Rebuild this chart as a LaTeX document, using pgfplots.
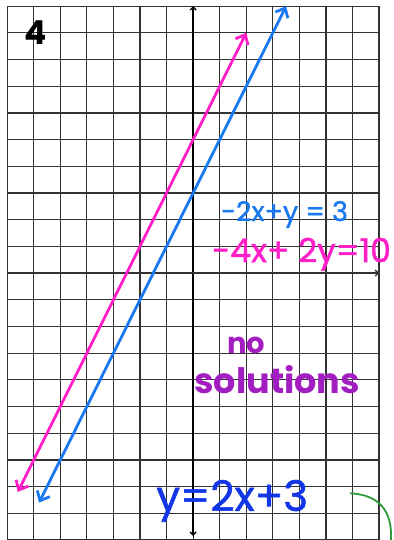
\documentclass[border=0pt]{standalone}
\usepackage{pgfplots}
\pgfplotsset{compat=1.18}
\usepackage{fontspec}
\setmainfont{Poppins}
\usetikzlibrary{arrows.meta}
\definecolor{penpink}{HTML}{FF1EC8}
\definecolor{penblue}{HTML}{1A78F0}
\definecolor{inkblue}{HTML}{1236E6}
\definecolor{penpurple}{HTML}{A21EC0}
\definecolor{pengreen}{HTML}{2E9B3A}
\definecolor{gridink}{HTML}{333333}

% y = 2x + 3  (from -2x + y = 3)
\pgfplotstableread{
x y
-5.8 -8.6
3.5 10
}\bluetable
% y = 2x + 5  (from -4x + 2y = 10)
\pgfplotstableread{
x y
-6.6 -8.2
2 9
}\pinktable

\newcommand{\hand}[1]{\fontsize{#1}{#1}\selectfont\addfontfeature{FakeBold=1.3}}

\begin{document}
\begin{tikzpicture}
\begin{axis}[
  scale only axis,
  width=372pt, height=534pt,
  xmin=-7, xmax=7, ymin=-10, ymax=10,
  xtick={-7,...,7}, ytick={-10,...,10},
  xticklabels={}, yticklabels={},
  major tick length=0pt,
  grid=major,
  grid style={draw=gridink, line width=1.2pt},
  axis line style={draw=gridink, line width=1.2pt},
  clip=false,
]
% page extent: a little paper margin on the left, top and right
\coordinate (pageSW) at (axis cs:-7.27,-10);
\coordinate (pageNE) at (axis cs:7.53,10.23);

% coordinate axes
\draw[line width=1.4pt, black, -{Straight Barb[length=3pt,width=6pt]}]
  (axis cs:0,0) -- (axis cs:0,10);
\draw[line width=1.4pt, black, -{Straight Barb[length=3pt,width=6pt]}]
  (axis cs:0,0) -- (axis cs:0,-9.85);
\draw[line width=1.3pt, gridink, -{Straight Barb[length=3pt,width=6pt]}]
  (axis cs:0,0) -- (axis cs:7,0);
\draw[line width=1.3pt, gridink]
  (axis cs:0,0) -- (axis cs:-7,0);

% the two parallel lines
\addplot[penpink, line width=2.8pt,
  {Straight Barb[length=8pt,width=14pt]}-{Straight Barb[length=8pt,width=14pt]}]
  table {\pinktable};
\addplot[penblue, line width=2.8pt,
  {Straight Barb[length=8pt,width=14pt]}-{Straight Barb[length=8pt,width=14pt]}]
  table {\bluetable};

% problem number
\node[anchor=base west, inner sep=0pt, font=\fontsize{33}{33}\selectfont\bfseries]
  at (axis cs:-6.35,8.58) {4};

% equations
\node[anchor=base west, inner sep=0pt, penblue, font=\hand{27}]
  at (axis cs:1.05,1.95) {-2x+y = 3};
\node[anchor=base west, inner sep=0pt, penpink, font=\hand{33}]
  at (axis cs:0.71,0.41) {-4x+ 2y=10};

% conclusion
\node[anchor=base west, inner sep=0pt, penpurple, font=\fontsize{29}{29}\selectfont\bfseries]
  at (axis cs:1.28,-3.03) {no};
\node[anchor=base west, inner sep=0pt, penpurple, font=\fontsize{35}{35}\selectfont\bfseries]
  at (axis cs:0.04,-4.53) {solutions};

% slope-intercept form
\node[anchor=base west, inner sep=0pt, inkblue, font=\hand{42}]
  at (axis cs:-1.39,-8.91) {y=2x+3};

% bracket in the margin
\draw[pengreen, line width=1.8pt]
  (axis cs:5.9,-8.25) .. controls (axis cs:7.0,-8.3) and (axis cs:7.5,-8.9) .. (axis cs:7.45,-10);
\end{axis}
\pgfresetboundingbox
\useasboundingbox (pageSW) rectangle (pageNE);
\end{tikzpicture}
\end{document}
